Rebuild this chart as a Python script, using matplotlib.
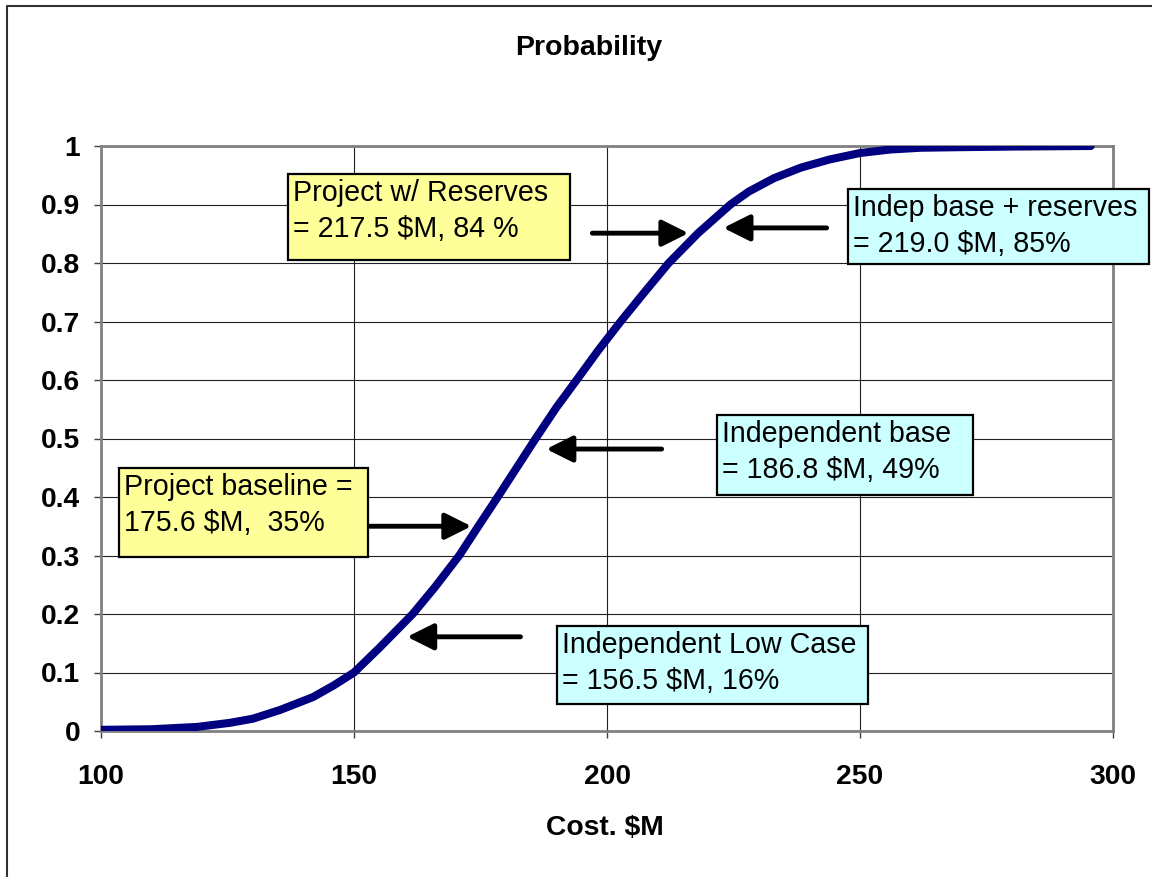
import matplotlib
matplotlib.use("Agg")
import matplotlib.pyplot as plt
from matplotlib.patches import Rectangle
from matplotlib.lines import Line2D

plt.rcParams["font.family"] = ["Liberation Sans", "DejaVu Sans"]

# cumulative probability curve
cost = [100, 110, 119, 125.5, 130, 135.4, 141.9, 146, 150, 155, 161.6, 166,
        170.8, 174.5, 178.4, 182, 185.9, 190, 194, 198.3, 202.7, 207.4, 212.2,
        218, 224.4, 228, 233, 238.3, 244, 250, 256, 262, 270, 280, 295.6]
prob = [0.002, 0.003, 0.007, 0.014, 0.021, 0.036, 0.058, 0.078, 0.10, 0.142,
        0.20, 0.246, 0.30, 0.349, 0.40, 0.448, 0.50, 0.553, 0.60, 0.651, 0.70,
        0.75, 0.80, 0.851, 0.90, 0.922, 0.945, 0.963, 0.977, 0.988, 0.994,
        0.997, 0.998, 0.999, 1.0]

x_ticks = [100, 150, 200, 250, 300]
y_ticks = [0, 0.1, 0.2, 0.3, 0.4, 0.5, 0.6, 0.7, 0.8, 0.9, 1]
y_tick_labels = ["0", "0.1", "0.2", "0.3", "0.4", "0.5", "0.6", "0.7", "0.8", "0.9", "1"]

# callouts: text, box colour, box (left, top, right, bottom) in pixels
callout_texts = [
    "Project w/ Reserves\n= 217.5 $M, 84 %",
    "Indep base + reserves\n= 219.0 $M, 85%",
    "Independent base\n= 186.8 $M, 49%",
    "Project baseline =\n175.6 $M,  35%",
    "Independent Low Case\n= 156.5 $M, 16%",
]
callout_colors = ["#ffff99", "#ccffff", "#ccffff", "#ffff99", "#ccffff"]
callout_boxes = [
    (288, 174, 570, 260),
    (848, 189, 1149, 264),
    (717, 415, 973, 495),
    (119, 468, 368, 557),
    (557, 626, 868, 704),
]
# arrows (tail -> head) in data units
arrow_tails = [(197.1, 0.851), (243.4, 0.860), (210.8, 0.482), (152.8, 0.350), (182.9, 0.161)]
arrow_heads = [(216.1, 0.851), (223.0, 0.860), (188.0, 0.482), (173.2, 0.350), (160.5, 0.161)]

W, H = 1152, 877


def fx(x):
    return x / W


def fy(y):
    return 1 - y / H


fig = plt.figure(figsize=(W / 100, H / 100), dpi=100)
ax = fig.add_axes([fx(101), fy(731), fx(1113) - fx(101), fy(146) - fy(731)])

ax.plot(cost, prob, color="#000080", lw=5.8, solid_capstyle="round",
        solid_joinstyle="round", zorder=3)

ax.set_xlim(100, 300)
ax.set_ylim(0, 1)
ax.set_xticks(x_ticks)
ax.set_yticks(y_ticks)
ax.set_yticklabels(y_tick_labels)
ax.grid(True, color="#202020", lw=0.8)
ax.set_axisbelow(True)
for s in ax.spines.values():
    s.set_color("#808080")
    s.set_linewidth(2)
ax.tick_params(direction="out", length=5, width=1, color="#404040",
               labelsize=20.3)
ax.tick_params(axis="x", pad=19)
ax.tick_params(axis="y", pad=10)
for lbl in ax.get_xticklabels() + ax.get_yticklabels():
    lbl.set_fontweight("bold")

for tail, head in zip(arrow_tails, arrow_heads):
    ax.annotate("", xy=head, xytext=tail, zorder=4,
                arrowprops=dict(arrowstyle="-|>,head_length=0.8,head_width=0.4",
                                mutation_scale=20, lw=3.5, color="black",
                                shrinkA=0, shrinkB=0, capstyle="round"))

for txt, col, (l, t, r, b) in zip(callout_texts, callout_colors, callout_boxes):
    fig.patches.append(Rectangle((fx(l), fy(b)), fx(r) - fx(l), fy(t) - fy(b),
                                 transform=fig.transFigure, facecolor=col,
                                 edgecolor="black", lw=1.6, zorder=5))
    fig.text(fx(l + 5), fy(t + 5), txt, ha="left", va="top", fontsize=20.6,
             linespacing=1.38, zorder=6)

fig.text(fx(589), fy(48), "Probability", ha="center", va="center",
         fontsize=20.5, fontweight="bold")
fig.text(fx(605), fy(828), "Cost. $M", ha="center", va="center",
         fontsize=20.3, fontweight="bold")

# outer chart border (left and top edges visible)
fig.lines.append(Line2D([fx(7), fx(7), fx(W + 5)], [fy(H + 5), fy(6), fy(6)],
                        transform=fig.transFigure, color="#303030", lw=1.5))

fig.savefig("out.png", dpi=100)
